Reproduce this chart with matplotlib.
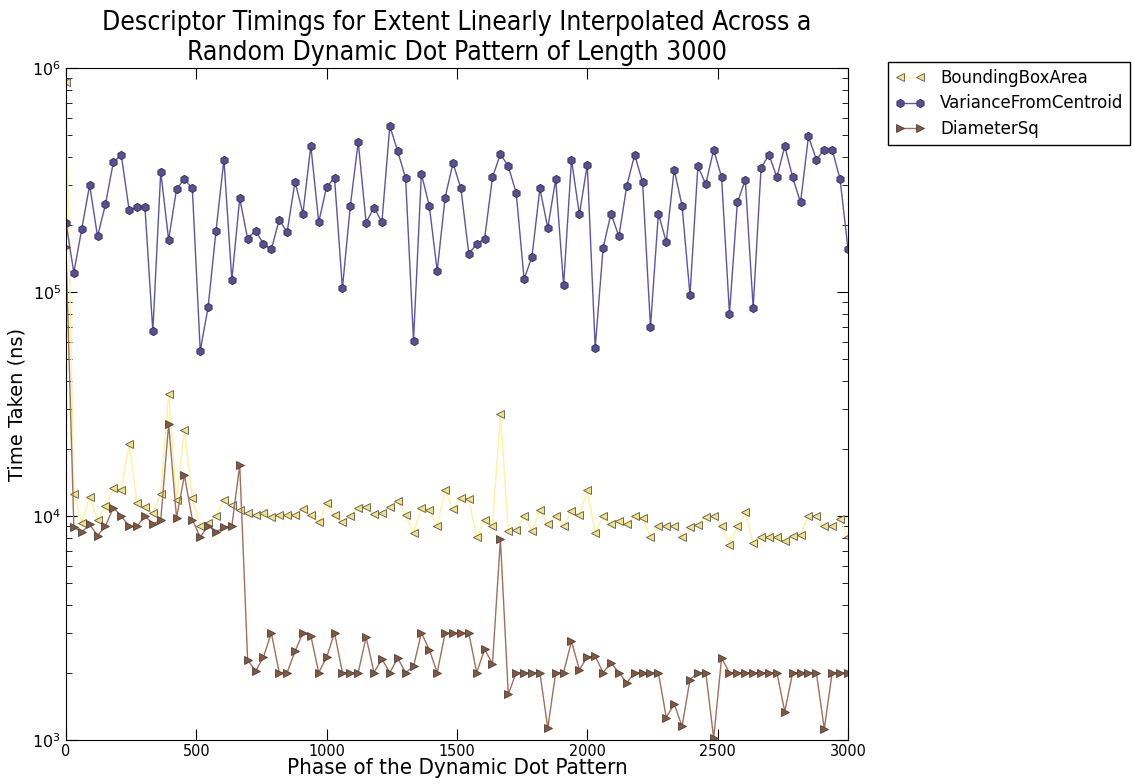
import numpy as np
import matplotlib
matplotlib.use("Agg")
import matplotlib.pyplot as plt

# phase positions: 100 samples across the pattern
phase = np.linspace(0, 3000, 100)

bounding_box_area = [
    8.66e5, 1.26e4, 9.34e3, 1.22e4, 9.57e3, 1.11e4, 1.33e4, 1.31e4, 2.10e4, 1.14e4,
    1.10e4, 1.03e4, 1.26e4, 3.52e4, 1.18e4, 2.43e4, 1.20e4, 9.00e3, 9.27e3, 1.00e4,
    1.18e4, 1.12e4, 1.06e4, 1.03e4, 1.01e4, 1.03e4, 9.91e3, 1.01e4, 1.01e4, 1.01e4,
    1.08e4, 1.01e4, 9.37e3, 1.14e4, 1.01e4, 9.37e3, 1.00e4, 1.09e4, 1.10e4, 1.02e4,
    1.03e4, 1.10e4, 1.17e4, 1.01e4, 8.40e3, 1.09e4, 1.06e4, 9.06e3, 1.31e4, 1.07e4,
    1.20e4, 1.19e4, 8.04e3, 9.57e3, 9.02e3, 2.86e4, 8.60e3, 8.66e3, 1.00e4, 8.60e3,
    1.06e4, 9.18e3, 1.00e4, 9.02e3, 1.05e4, 1.01e4, 1.30e4, 8.40e3, 9.95e3, 9.24e3,
    9.50e3, 9.24e3, 9.98e3, 9.82e3, 8.06e3, 9.00e3, 9.00e3, 9.00e3, 8.06e3, 8.91e3,
    9.15e3, 9.91e3, 9.95e3, 9.00e3, 7.43e3, 9.00e3, 1.04e4, 7.57e3, 8.04e3, 8.04e3,
    8.04e3, 7.71e3, 8.17e3, 8.26e3, 1.00e4, 1.00e4, 9.00e3, 9.00e3, 9.70e3, 8.04e3,
]

variance_from_centroid = [
    2.04e5, 1.22e5, 1.91e5, 3.00e5, 1.77e5, 2.46e5, 3.79e5, 4.10e5, 2.32e5, 2.40e5,
    2.39e5, 6.68e4, 3.44e5, 1.71e5, 2.88e5, 3.19e5, 2.90e5, 5.47e4, 8.57e4, 1.88e5,
    3.90e5, 1.13e5, 2.62e5, 1.73e5, 1.88e5, 1.64e5, 1.55e5, 2.10e5, 1.85e5, 3.11e5,
    2.24e5, 4.50e5, 2.05e5, 2.95e5, 3.22e5, 1.04e5, 2.42e5, 4.68e5, 2.04e5, 2.38e5,
    2.05e5, 5.51e5, 4.25e5, 3.22e5, 6.07e4, 3.37e5, 2.42e5, 1.24e5, 2.64e5, 3.76e5,
    2.90e5, 1.48e5, 1.64e5, 1.73e5, 3.25e5, 4.13e5, 3.64e5, 2.77e5, 1.14e5, 1.44e5,
    2.90e5, 1.93e5, 3.19e5, 1.07e5, 3.90e5, 2.22e5, 3.70e5, 5.62e4, 1.57e5, 2.24e5,
    1.77e5, 2.98e5, 4.10e5, 3.09e5, 6.98e4, 2.24e5, 1.67e5, 3.52e5, 2.42e5, 9.70e4,
    3.64e5, 3.03e5, 4.32e5, 3.25e5, 8.00e4, 2.51e5, 3.17e5, 8.51e4, 3.58e5, 4.10e5,
    3.25e5, 4.47e5, 3.25e5, 2.51e5, 4.95e5, 3.90e5, 4.32e5, 4.32e5, 3.19e5, 1.56e5,
]

diameter_sq = [
    1.59e5, 8.93e3, 8.45e3, 9.18e3, 8.17e3, 9.02e3, 1.09e4, 1.00e4, 9.00e3, 9.00e3,
    1.00e4, 9.20e3, 9.57e3, 2.57e4, 9.82e3, 1.52e4, 9.64e3, 8.04e3, 9.06e3, 8.45e3,
    8.93e3, 9.00e3, 1.69e4, 2.28e3, 2.03e3, 2.34e3, 3.01e3, 2.00e3, 2.00e3, 2.49e3,
    3.01e3, 2.92e3, 2.00e3, 2.34e3, 3.01e3, 2.00e3, 2.00e3, 2.00e3, 2.88e3, 2.00e3,
    2.30e3, 2.00e3, 2.32e3, 2.00e3, 2.13e3, 3.01e3, 2.53e3, 2.00e3, 3.00e3, 3.00e3,
    3.00e3, 3.00e3, 2.00e3, 2.54e3, 2.19e3, 7.87e3, 1.60e3, 2.00e3, 2.00e3, 2.00e3,
    2.00e3, 1.13e3, 2.00e3, 2.00e3, 2.76e3, 2.06e3, 2.35e3, 2.37e3, 2.00e3, 2.21e3,
    2.00e3, 1.80e3, 2.00e3, 2.00e3, 2.00e3, 2.00e3, 1.26e3, 1.45e3, 1.15e3, 1.86e3,
    2.00e3, 2.00e3, 1.02e3, 2.32e3, 2.00e3, 2.00e3, 2.00e3, 2.00e3, 2.00e3, 2.00e3,
    2.00e3, 1.34e3, 2.00e3, 2.00e3, 2.00e3, 2.00e3, 1.12e3, 2.00e3, 2.00e3, 2.00e3,
]

fig = plt.figure(figsize=(11.35, 7.84), dpi=100)
ax = fig.add_axes([0.0581, 0.0561, 0.689, 0.8572])

ax.plot(phase, bounding_box_area, "-<", color="#fff29a", lw=1,
        markerfacecolor="#f5e27a", markeredgecolor="#555555", markeredgewidth=0.6,
        markersize=6, label="BoundingBoxArea")
ax.plot(phase, variance_from_centroid, "-h", color="#5c54a6", lw=1,
        markerfacecolor="#574e9e", markeredgecolor="#333333", markeredgewidth=0.6,
        markersize=6, label="VarianceFromCentroid")
ax.plot(phase, diameter_sq, "->", color="#a0705a", lw=1,
        markerfacecolor="#8a5636", markeredgecolor="#444444", markeredgewidth=0.6,
        markersize=6, label="DiameterSq")

ax.set_yscale("log")
ax.set_xlim(0, 3000)
ax.set_ylim(1e3, 1e6)
ax.set_xticks([0, 500, 1000, 1500, 2000, 2500, 3000])

ax.tick_params(which="both", direction="in", top=True, right=True)
ax.tick_params(which="major", length=8, labelsize=11.5)
ax.tick_params(which="minor", length=4)
ax.tick_params(axis="x", pad=3)
for lbl in ax.get_xticklabels():
    lbl.set_fontstretch("condensed")

ax.set_title("Descriptor Timings for Extent Linearly Interpolated Across a\n"
             "Random Dynamic Dot Pattern of Length 3000",
             fontsize=19, fontstretch="condensed", pad=6)
ax.set_xlabel("Phase of the Dynamic Dot Pattern", fontsize=16,
              fontstretch="condensed", labelpad=-1)
ax.set_ylabel("Time Taken (ns)", fontsize=14)

ax.legend(loc="upper left", bbox_to_anchor=(888 / 1135, 1 - 62 / 784),
          bbox_transform=fig.transFigure, borderaxespad=0, fontsize=12,
          fancybox=False, framealpha=1, edgecolor="black", borderpad=0.42,
          handlelength=1.8, handletextpad=0.9, labelspacing=0.45, numpoints=2)

fig.savefig("out.png", dpi=100, facecolor="white")
